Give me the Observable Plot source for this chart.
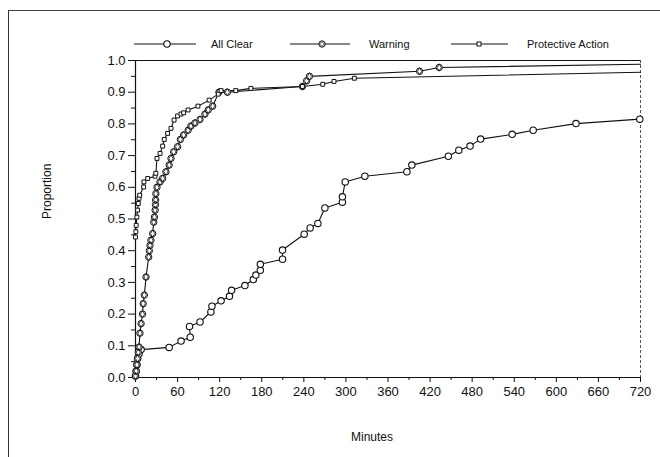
<!DOCTYPE html>
<html><head><meta charset="utf-8">
<script src="https://cdn.jsdelivr.net/npm/d3@7"></script>
<script src="https://cdn.jsdelivr.net/npm/@observablehq/plot@0.6"></script>
<style>
body{margin:0;background:#fff;}
#wrap{position:relative;width:660px;height:457px;overflow:hidden;font-family:"Liberation Sans",Arial,sans-serif;}
#border{position:absolute;left:8px;top:10px;width:700px;height:500px;border-left:1.5px solid #333;border-top:1.5px solid #444;}
#chart{position:absolute;left:0;top:0;}
#legend{position:absolute;left:0;top:0;}
</style></head><body>
<div id="wrap"><div id="border"></div><div id="chart"></div><div id="legend"></div></div>
<script>
// ---- data ----
const seriesNames = ["All Clear", "Warning", "Protective Action"];

const allClearT = [0,1,2,3,5,8,48,65,78,77,92,107.5,109,122,134,137,156,168,171.6,178,178,209.6,209.6,240.5,249,260,270,295,295,299,327,387,394,446,461,477,492,537,567,628,719];
const allClearP = [0.005,0.02,0.04,0.06,0.075,0.088,0.095,0.115,0.127,0.161,0.175,0.207,0.225,0.242,0.256,0.275,0.29,0.309,0.323,0.338,0.357,0.373,0.402,0.452,0.472,0.486,0.535,0.553,0.57,0.617,0.635,0.649,0.67,0.698,0.717,0.73,0.752,0.767,0.78,0.801,0.815];

const warningT = [0,1,2,3,4,5,6.4,8,10,11,12.6,15,18.8,19.7,20.7,22,24.5,26,27,28,28.5,28.7,29,30.6,35,38.7,43.4,48,50.6,54.4,60,64,68.6,75,79,84.8,92,99,103.7,110,119,131,238,244,248,405,433,720];
const warningP = [0.005,0.02,0.04,0.06,0.08,0.096,0.14,0.17,0.2,0.233,0.26,0.317,0.38,0.40,0.417,0.433,0.454,0.49,0.506,0.528,0.545,0.56,0.58,0.60,0.617,0.628,0.649,0.67,0.691,0.712,0.728,0.751,0.765,0.78,0.793,0.803,0.814,0.831,0.844,0.856,0.90,0.90,0.918,0.936,0.95,0.966,0.978,0.988];

const protectiveT = [0,0.5,1,2,3,4,5,6,11.6,12,17.4,27.8,29,30.6,35,38.7,41,45.8,50.6,55,60,64.8,68.6,75,89,105,118,122,143,164.5,238,267,283,312,720];
const protectiveP = [0.443,0.46,0.48,0.506,0.528,0.549,0.565,0.575,0.601,0.617,0.628,0.635,0.644,0.691,0.707,0.73,0.751,0.77,0.786,0.812,0.825,0.831,0.835,0.844,0.856,0.875,0.894,0.905,0.905,0.912,0.918,0.925,0.934,0.944,0.963];

const xTicks = [0,60,120,180,240,300,360,420,480,540,600,660,720];
const xMinorTicks = [30,90,150,210,270,330,390,450,510,570,630,690];
const yTicks = [0,0.1,0.2,0.3,0.4,0.5,0.6,0.7,0.8,0.9,1.0];
const yMinorTicks = [0.05,0.15,0.25,0.35,0.45,0.55,0.65,0.75,0.85,0.95];
const xLabel = "Minutes";
const yLabel = "Proportion";

// ---- build tables ----
const mk = (T, P) => T.map((t, i) => ({t, p: P[i], i}));
const ac = mk(allClearT, allClearP);
const wa = mk(warningT, warningP);
const pa = mk(protectiveT, protectiveP);
const waDots = wa.slice(0, wa.length - 1);
const paDots = pa.slice(0, pa.length - 1);
const ink = "#111";

const chart = Plot.plot({
  width: 660, height: 457,
  marginLeft: 135, marginRight: 20, marginTop: 60, marginBottom: 80,
  x: {domain: [0, 720]},
  y: {domain: [0, 1]},
  style: {fontFamily: "'Liberation Sans', Arial, sans-serif", fontSize: "13px", color: ink, background: "transparent", overflow: "visible"},
  marks: [
    Plot.axisX({ticks: xMinorTicks, tickSize: 3, text: null, label: null, stroke: ink}),
    Plot.axisX({ticks: xTicks, tickSize: 5, tickPadding: 4, label: null, stroke: ink, fontSize: 13}),
    Plot.axisY({ticks: yMinorTicks, tickSize: 4, text: null, label: null, stroke: ink}),
    Plot.axisY({ticks: yTicks, tickSize: 7, tickPadding: 3, tickFormat: ".1f", label: null, stroke: ink, fontSize: 13}),
    Plot.ruleY([0], {stroke: ink, strokeWidth: 1.2}),
    Plot.ruleX([0], {stroke: ink, strokeWidth: 1.2}),
    Plot.ruleY([1], {stroke: ink, strokeWidth: 1.2}),
    Plot.ruleX([720], {stroke: "#555", strokeWidth: 1, strokeDasharray: "3,2"}),
    Plot.text([xLabel], {frameAnchor: "bottom", dx: -16, dy: 63, fontSize: 12, fill: ink}),
    Plot.text([yLabel], {frameAnchor: "left", dx: -88, rotate: -90, fontSize: 12, fill: ink}),
    Plot.line(ac, {x: "t", y: "p", stroke: ink, strokeWidth: 1.1}),
    Plot.line(wa, {x: "t", y: "p", stroke: ink, strokeWidth: 1.1}),
    Plot.line(pa, {x: "t", y: "p", stroke: ink, strokeWidth: 1.1}),
    Plot.dot(ac, {x: "t", y: "p", r: 3.2, symbol: "circle", stroke: ink, fill: "white", strokeWidth: 1.1}),
    Plot.dot(waDots, {x: "t", y: "p", r: 3.2, symbol: "circle", stroke: ink, fill: "white", strokeWidth: 1}),
    Plot.dot(waDots, {x: "t", y: "p", r: 2.2, symbol: "diamond", stroke: ink, fill: "none", strokeWidth: 0.8}),
    Plot.dot(paDots, {x: "t", y: "p", r: 2.2, symbol: "square", stroke: ink, fill: "white", strokeWidth: 1})
  ]
});
document.getElementById("chart").appendChild(chart);

// ---- legend ----
const items = [
  {name: seriesNames[0], x0: 134, x1: 196, m: 167, tx: 211, kind: "circle"},
  {name: seriesNames[1], x0: 290, x1: 350, m: 322, tx: 369, kind: "warn"},
  {name: seriesNames[2], x0: 451, x1: 508, m: 479, tx: 527, kind: "square"}
];
const ly = 44;
let s = `<svg width="660" height="60" xmlns="http://www.w3.org/2000/svg" style="font-family:'Liberation Sans',Arial,sans-serif">`;
for (const it of items) {
  s += `<line x1="${it.x0}" x2="${it.x1}" y1="${ly}" y2="${ly}" stroke="${ink}" stroke-width="1.1"/>`;
  if (it.kind === "circle") s += `<circle cx="${it.m}" cy="${ly}" r="3.2" fill="white" stroke="${ink}" stroke-width="1.1"/>`;
  if (it.kind === "warn") s += `<circle cx="${it.m}" cy="${ly}" r="3.2" fill="white" stroke="${ink}"/><path d="M${it.m},${ly-2.4}L${it.m+2.4},${ly}L${it.m},${ly+2.4}L${it.m-2.4},${ly}Z" fill="none" stroke="${ink}" stroke-width="0.8"/>`;
  if (it.kind === "square") s += `<rect x="${it.m-2}" y="${ly-2}" width="4" height="4" fill="white" stroke="${ink}"/>`;
  s += `<text x="${it.tx}" y="${ly+4}" font-size="11" fill="${ink}">${it.name}</text>`;
}
s += `</svg>`;
document.getElementById("legend").innerHTML = s;
</script>
</body></html>
